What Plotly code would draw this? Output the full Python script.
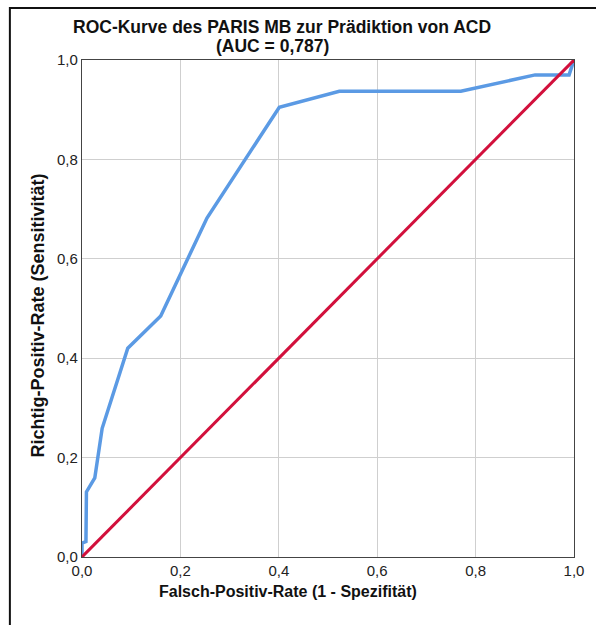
import plotly.graph_objects as go

# ROC curve points (false positive rate, true positive rate)
fpr = [0.0, 0.0, 0.008, 0.009, 0.026, 0.041, 0.093, 0.160, 0.254, 0.401, 0.523, 0.770, 0.921, 0.990, 1.0]
tpr = [0.0, 0.028, 0.031, 0.131, 0.159, 0.259, 0.420, 0.485, 0.682, 0.905, 0.937, 0.937, 0.970, 0.970, 1.0]

# reference diagonal (chance line)
diag_x = [0.0, 1.0]
diag_y = [0.0, 1.0]

tick_vals = [0.0, 0.2, 0.4, 0.6, 0.8, 1.0]
tick_text = ["0,0", "0,2", "0,4", "0,6", "0,8", "1,0"]

title_line1 = "ROC-Kurve des PARIS MB zur Prädiktion von ACD"
title_line2 = "(AUC = 0,787)"
x_title = "Falsch-Positiv-Rate (1 - Spezifität)"
y_title = "Richtig-Positiv-Rate (Sensitivität)"

FONT = "Liberation Sans, Arial, Helvetica, sans-serif"

W, H = 596, 625
L, R, T, B = 82, 16, 60, 68
pw, ph = W - L - R, H - T - B


def px_x(p):
    return (p - L) / pw


def px_y(p):
    return (H - B - p) / ph


fig = go.Figure()
fig.add_trace(go.Scatter(x=fpr, y=tpr, mode="lines",
                         line=dict(color="#5B9AE4", width=3.5),
                         hoverinfo="skip"))
fig.add_trace(go.Scatter(x=diag_x, y=diag_y, mode="lines",
                         line=dict(color="#D2103C", width=3),
                         hoverinfo="skip"))

axis_common = dict(
    range=[0, 1], tickvals=tick_vals, ticktext=tick_text,
    showgrid=True, gridcolor="#CFCFCF", gridwidth=1,
    zeroline=False, showline=True, linecolor="#444444", linewidth=1.2,
    mirror=True, ticks="",
    tickfont=dict(family=FONT, size=15, color="#222222"),
    fixedrange=True,
)

fig.update_layout(
    width=W, height=H,
    margin=dict(l=L, r=R, t=T, b=B),
    paper_bgcolor="white", plot_bgcolor="white",
    showlegend=False,
    xaxis=dict(**axis_common),
    yaxis=dict(**axis_common),
    annotations=[
        dict(text="<b>" + title_line1 + "</b>", xref="paper", yref="paper",
             x=px_x(284), y=px_y(27), showarrow=False,
             xanchor="center", yanchor="middle",
             font=dict(family=FONT, size=17.5, color="#111111")),
        dict(text="<b>" + title_line2 + "</b>", xref="paper", yref="paper",
             x=px_x(275), y=px_y(46), showarrow=False,
             xanchor="center", yanchor="middle",
             font=dict(family=FONT, size=17.5, color="#111111")),
        dict(text="<b>" + x_title + "</b>", xref="paper", yref="paper",
             x=px_x(291), y=px_y(591), showarrow=False,
             xanchor="center", yanchor="middle",
             font=dict(family=FONT, size=16, color="#111111")),
        dict(text="<b>" + y_title + "</b>", xref="paper", yref="paper",
             x=px_x(37), y=px_y(316), showarrow=False, textangle=-90,
             xanchor="center", yanchor="middle",
             font=dict(family=FONT, size=18, color="#111111")),
    ],
    shapes=[
        dict(type="path", xref="paper", yref="paper",
             path="M {x0} {y0} L {x0} {y1} L {x2} {y1}".format(
                 x0=px_x(9), y0=px_y(640), y1=px_y(8), x2=px_x(610)),
             line=dict(color="#111111", width=2)),
    ],
)

fig.write_html("out.html")
